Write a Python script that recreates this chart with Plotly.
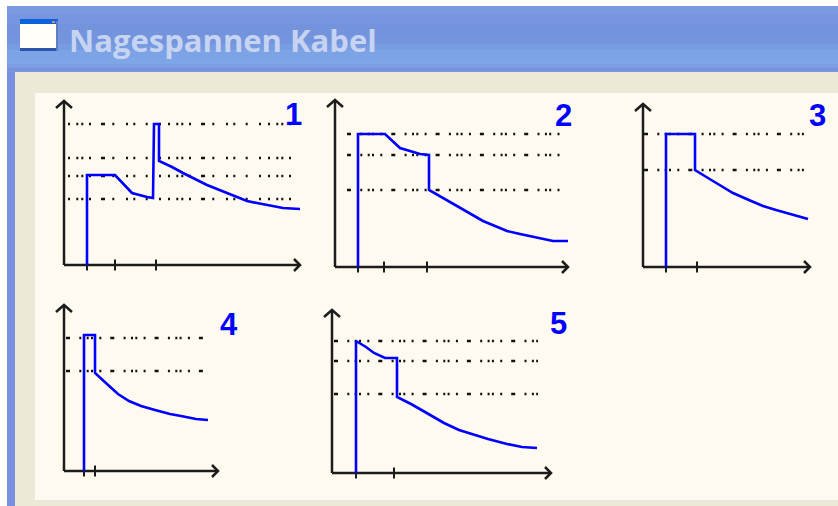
# Nagespannen Kabel - five small force/time sketches in a window frame
import plotly.graph_objects as go

W = 838
H = 506

panel_names = ["1", "2", "3", "4", "5"]

curve1_x = [23, 23, 51, 60, 68, 83, 89, 90, 95, 95, 108, 119, 131, 143, 153, 163, 173, 183, 193, 203, 211, 219, 236]
curve1_y = [0, 90, 90, 81, 72, 68, 67, 141, 141, 104, 98, 92, 86, 80, 76, 72, 68, 64, 62, 60, 58, 57, 56]
levels1 = [141, 107, 89, 66]
ticks1 = [23, 51, 92]

curve2_x = [23, 23, 50, 65, 85, 94, 94, 118, 133, 148, 160, 172, 185, 198, 208, 218, 233]
curve2_y = [0, 133, 133, 119, 113, 112, 77, 63, 55, 46, 41, 36, 33, 30, 28, 26, 26]
levels2 = [133, 112, 77]
ticks2 = [23, 49, 92]

curve3_x = [23, 23, 52, 52, 65, 80, 90, 107, 120, 133, 150, 165]
curve3_y = [0, 133, 133, 97, 89, 80, 74, 66.5, 61, 57, 52, 48]
levels3 = [133, 97]
ticks3 = [23, 54]

curve4_x = [20, 20, 31, 31, 43, 54, 65, 77, 91, 106, 117, 132, 144]
curve4_y = [0, 136, 136, 98, 87, 77, 70, 65, 61, 57, 55, 52, 51]
levels4 = [133, 100]
ticks4 = [20, 31]

curve5_x = [24, 24, 34, 42, 53, 65, 65, 79, 93, 112, 127, 142, 156, 175, 190, 205]
curve5_y = [0, 132, 126, 120, 115, 115, 76, 69, 61, 50, 43, 38, 34, 29, 26, 25]
levels5 = [132, 112, 79]
ticks5 = [24, 62]

curves_x = [curve1_x, curve2_x, curve3_x, curve4_x, curve5_x]
curves_y = [curve1_y, curve2_y, curve3_y, curve4_y, curve5_y]
levels = [levels1, levels2, levels3, levels4, levels5]
ticks = [ticks1, ticks2, ticks3, ticks4, ticks5]

# Layout of the panels in page pixels: origin x, origin y, x length, y length,
# where the dotted lines start and end (from the origin), number position
origins = [(64, 265), (335, 267), (643, 267), (64, 471), (332, 473)]
axis_len = [(236, 164), (233, 167), (167, 163), (154, 166), (219, 163)]
dot_span = [(4, 232), (12, 231), (1, 165), (2, 141), (2, 206)]
label_pos = [(293, 114), (563, 115), (817, 115), (229, 324), (558, 323)]
PAD = 12  # room round each plot so the arrow heads are not clipped

# The dots are irregular in the reference, so a custom dash is used
dash_wide = "2px,6.3px,2px,3px,2px,5.7px,2px,10px,4px,7.3px,2px,11.7px,2px,5.3px,2px,10.4px,2px,11.3px,2px,7px"
dash_tight = "4px,9.3px,2px,5.4px,2px,2.3px,2px,6.3px,2px,9px"
dashes = [dash_wide, dash_tight, dash_tight, dash_tight, dash_tight]

BLUE = "#0000ff"
INK = "#1c1c1c"

fig = go.Figure()

for i, name in enumerate(panel_names):
    ox, oy = origins[i]
    lx, ly = axis_len[i]
    xa = "x" if i == 0 else f"x{i + 1}"
    ya = "y" if i == 0 else f"y{i + 1}"
    # axis domain taken straight from the page pixels
    fig.update_layout({
        ("xaxis" if i == 0 else f"xaxis{i + 1}"): dict(
            domain=[(ox - PAD) / W, (ox + lx + PAD) / W], range=[-PAD, lx + PAD], anchor=ya,
            visible=False, fixedrange=True),
        ("yaxis" if i == 0 else f"yaxis{i + 1}"): dict(
            domain=[1 - (oy + PAD) / H, 1 - (oy - ly - PAD) / H], range=[-PAD, ly + PAD], anchor=xa,
            visible=False, fixedrange=True),
    })

    # dotted levels
    for lev in levels[i]:
        fig.add_trace(go.Scatter(x=[dot_span[i][0], dot_span[i][1]], y=[lev, lev], mode="lines",
                                 line=dict(color="#111111", width=2.6, dash=dashes[i]),
                                 xaxis=xa, yaxis=ya, showlegend=False, hoverinfo="skip"))

    # both axes with an open V arrow head at the end
    fig.add_trace(go.Scatter(x=[0, lx, None, lx - 6, lx, lx - 6], y=[0, 0, None, 6, 0, -6], mode="lines",
                             line=dict(color=INK, width=2.5),
                             xaxis=xa, yaxis=ya, showlegend=False, hoverinfo="skip"))
    fig.add_trace(go.Scatter(x=[0, 0, None, -8, 0, 8], y=[0, ly, None, ly - 7, ly, ly - 7], mode="lines",
                             line=dict(color=INK, width=2.5),
                             xaxis=xa, yaxis=ya, showlegend=False, hoverinfo="skip"))
    fig.add_trace(go.Scatter(x=ticks[i], y=[0 for t in ticks[i]], mode="markers",
                             marker=dict(symbol="line-ns", size=8, line=dict(color=INK, width=2)),
                             xaxis=xa, yaxis=ya, showlegend=False, hoverinfo="skip"))

    # the force curve
    fig.add_trace(go.Scatter(x=curves_x[i], y=curves_y[i], mode="lines",
                             line=dict(color=BLUE, width=2.6),
                             xaxis=xa, yaxis=ya, showlegend=False))

    # panel number
    fig.add_annotation(x=label_pos[i][0] / W, y=1 - label_pos[i][1] / H, xref="paper", yref="paper",
                       text=f"<b>{name}</b>", showarrow=False, xanchor="center", yanchor="middle",
                       font=dict(family="Liberation Sans", size=31, color=BLUE))


def rect(x0, y0, x1, y1, color):
    return dict(type="rect", xref="paper", yref="paper", layer="below",
                x0=x0 / W, x1=x1 / W, y0=1 - y0 / H, y1=1 - y1 / H,
                fillcolor=color, line=dict(width=0))


# window frame
shapes = [
    rect(7, 6, W, H, "#7b8fe0"),
    rect(15, 72, W, H, "#ece9d8"),
    rect(35, 93, W, 500, "#fffaf0"),
]

# title bar, lighter towards the bottom edge
bar_steps = [(6, "#7b99e1"), (14, "#7896df"), (24, "#7493dd"), (36, "#7494de"), (44, "#789ce2"),
             (50, "#7ca3e5"), (58, "#7ea6e7"), (64, "#7c9fe4"), (68, "#7793de"), (71, "#8097dd")]
for j, (y0, col) in enumerate(bar_steps):
    y1 = bar_steps[j + 1][0] if j + 1 < len(bar_steps) else 72
    shapes.append(rect(7, y0, W, y1, col))

# window icon
shapes += [
    rect(20, 19, 58, 51, "#fffef8"),
    rect(20, 19, 58, 24, "#0c62dc"),
    rect(20, 48, 58, 51, "#2b55a8"),
    rect(56, 21, 58, 51, "#5f7fc4"),
    rect(52, 21, 55, 23, "#e08a50"),
]

fig.update_layout(
    width=W, height=H, margin=dict(l=0, r=0, t=0, b=0),
    paper_bgcolor="#ffffff", plot_bgcolor="rgba(0,0,0,0)",
    shapes=shapes, showlegend=False,
)

fig.add_annotation(x=67 / W, y=1 - 40 / H, xref="paper", yref="paper", text="<b>Nagespannen Kabel</b>",
                   showarrow=False, xanchor="left", yanchor="middle",
                   font=dict(family="Open Sans", size=31, color="#c6d4f2"))

fig.write_html("out.html", config=dict(displayModeBar=False),
               post_script="document.body.style.margin='0';")
